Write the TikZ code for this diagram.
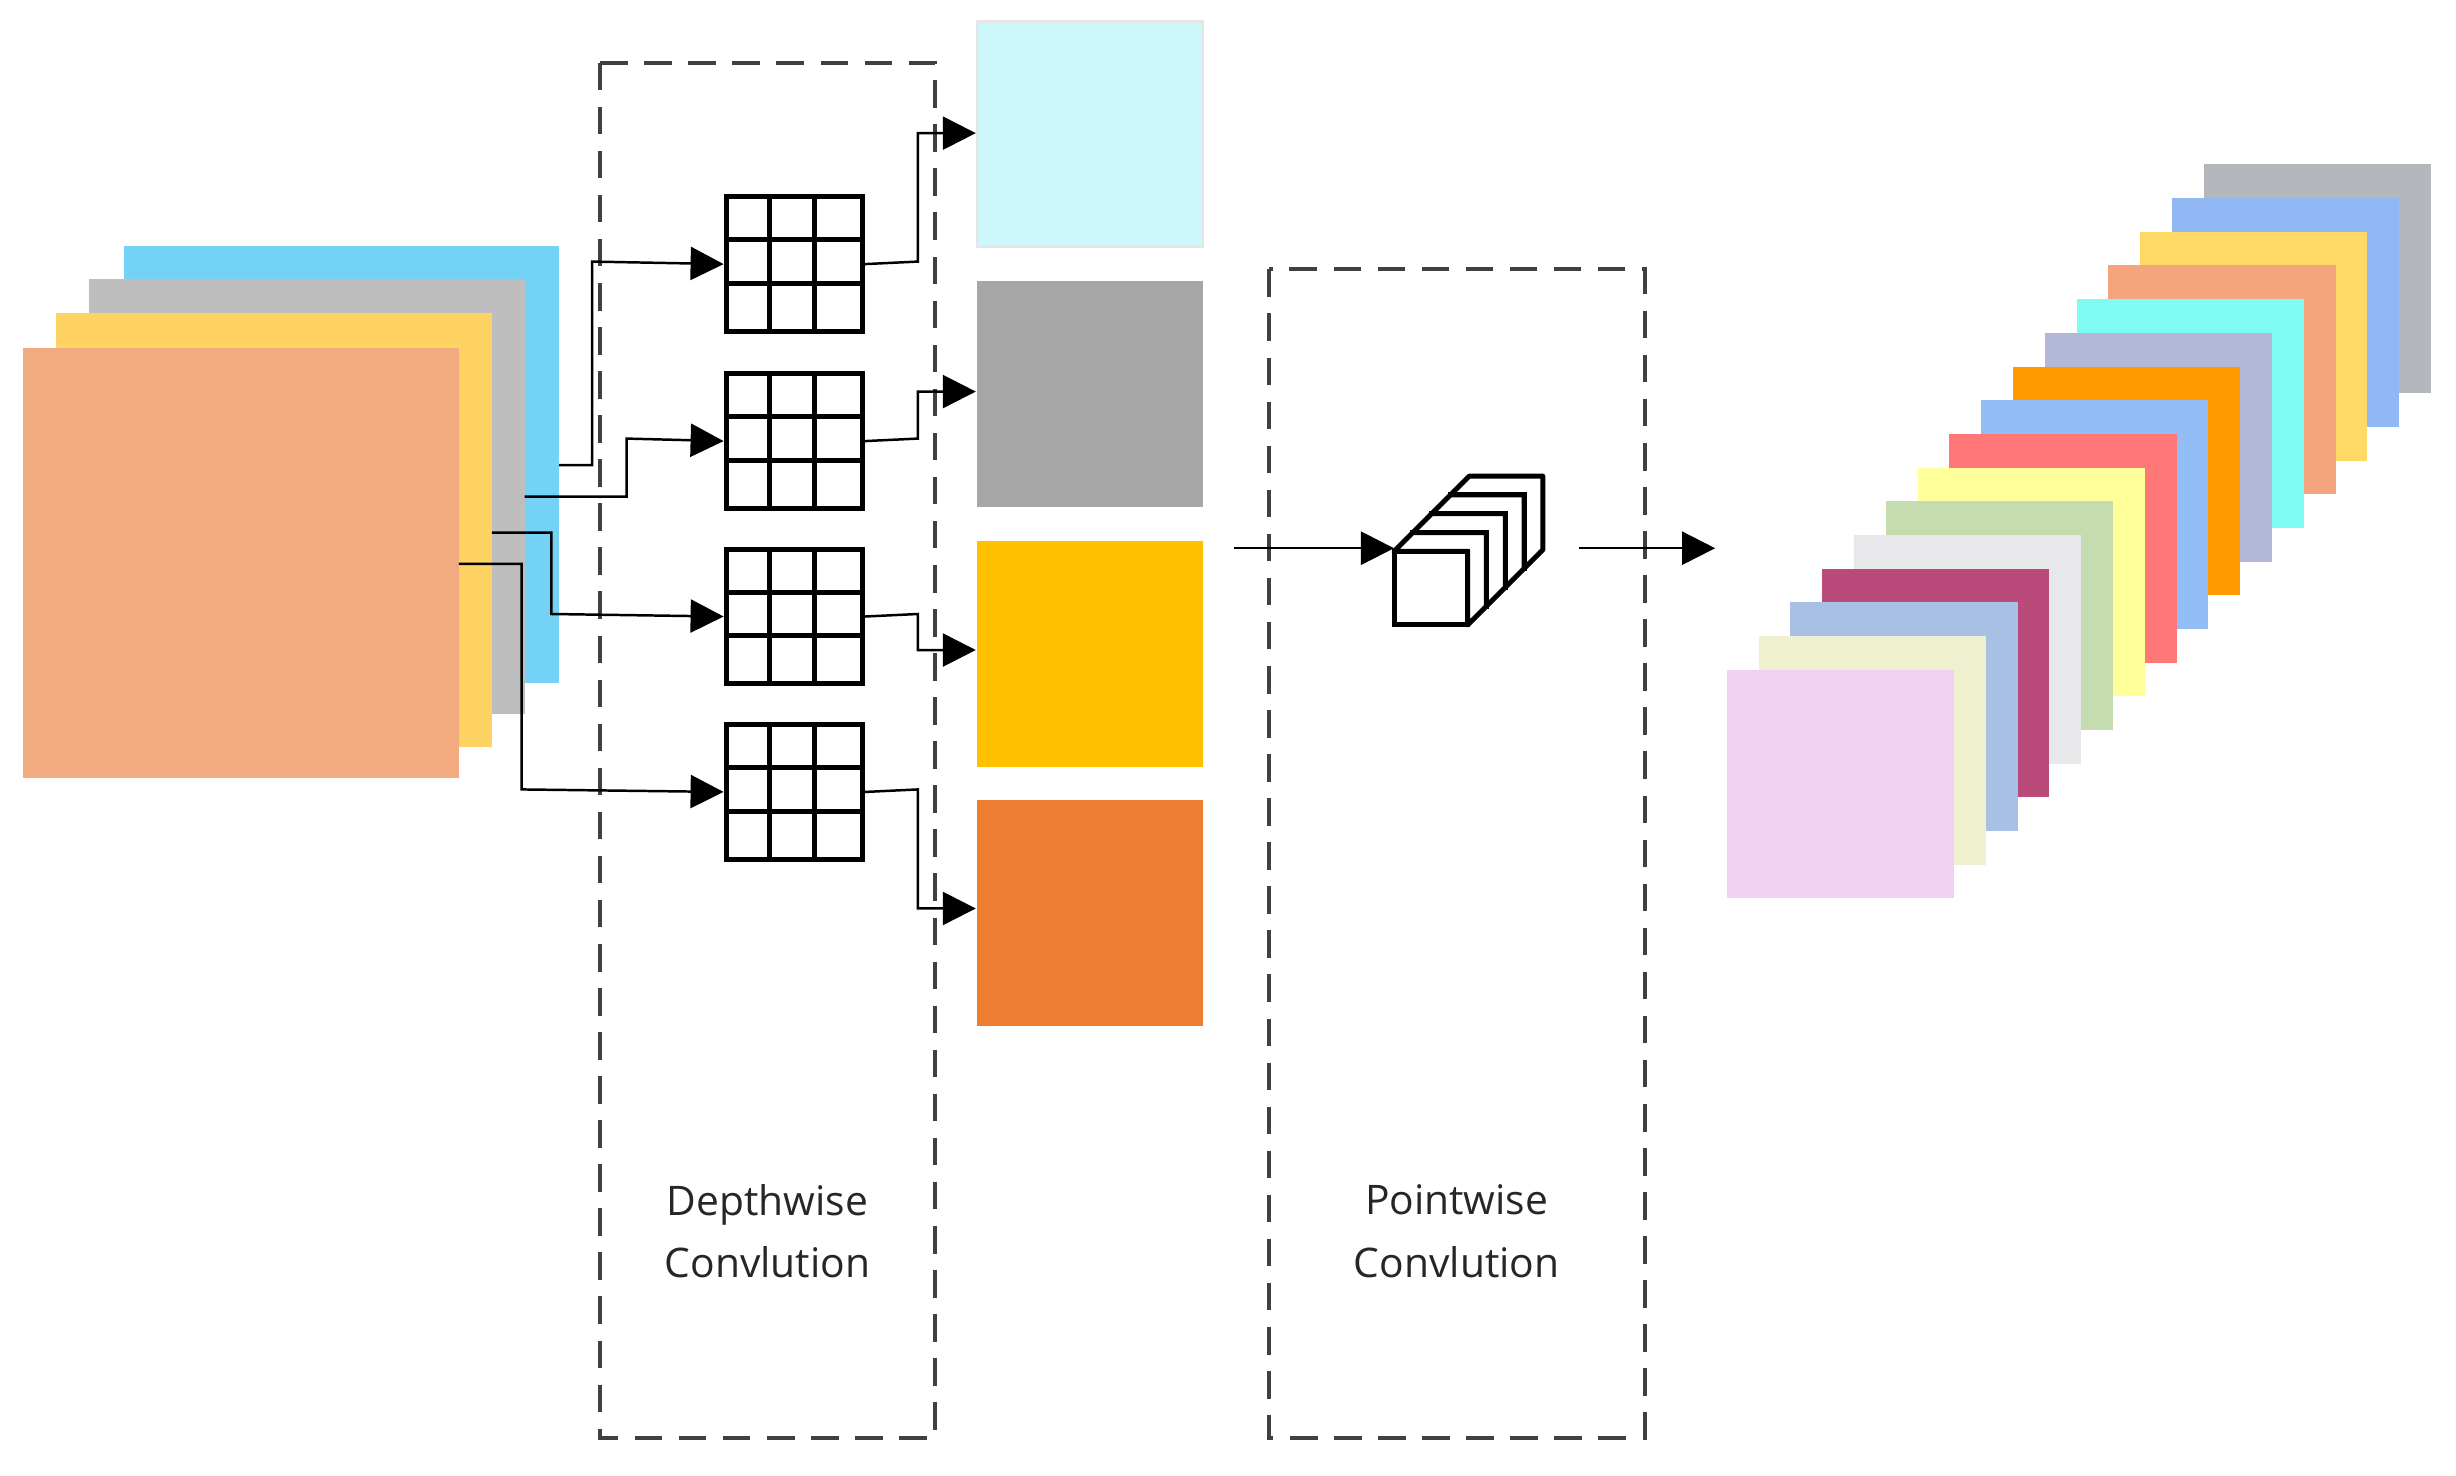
\documentclass[tikz,border=0pt]{standalone}
\usepackage{fontspec}
\setmainfont{Open Sans}
\usetikzlibrary{arrows.meta}
\begin{document}
\begin{tikzpicture}[x=0.01cm,y=-0.01cm,
  conn/.style={line width=0.45pt,-{Triangle[length=6pt,width=6pt]}},
  dbox/.style={draw=black!75,dashed,dash pattern=on 5pt off 3pt,line width=0.7pt},
  lbl/.style={font=\fontsize{7.4}{11.4}\selectfont,align=center,text=black!85}]
\useasboundingbox (0,0) rectangle (1568,942);
% left input stack
\fill[fill=cyan!55!white] (79,157) rectangle (357,436);
\fill[fill={rgb,255:red,190;green,190;blue,190}] (57,178) rectangle (335,456);
\fill[fill={rgb,255:red,255;green,210;blue,100}] (36,200) rectangle (314,477);
\fill[fill={rgb,255:red,242;green,170;blue,128}] (15,222) rectangle (293,497);
\coordinate (s1) at (357,297);\coordinate (s2) at (335,317);
\coordinate (s3) at (314,340);\coordinate (s4) at (293,360);
% dashed boxes
\draw[dbox] (383,40) rectangle (597,918);
\draw[dbox] (810,172) rectangle (1050,918);
\node[lbl] (dw) at (490,786) {Depthwise\\Convlution};
\node[lbl] (pw) at (930,786) {Pointwise\\Convlution};
% grids
\foreach \i/\y in {1/124,2/237,3/349,4/461}{
  \node[draw,line width=0.9pt,minimum width=0.87cm,minimum height=0.86cm,inner sep=0,anchor=north west] (g\i) at (462,\y) {};
  \draw[line width=0.9pt] (491,\y) -- ++(0,86) (520,\y) -- ++(0,86)
     (462,\y+29) -- ++(87,0) (462,\y+57) -- ++(87,0);
}
% output squares
\node[fill={rgb,255:red,204;green,248;blue,252},draw=black!10,minimum size=1.44cm,inner sep=0,anchor=north west] (o1) at (623,13) {};
\node[fill={rgb,255:red,166;green,166;blue,166},minimum size=1.44cm,inner sep=0,anchor=north west] (o2) at (623,179) {};
\node[fill={rgb,255:red,255;green,192;blue,0},minimum size=1.44cm,inner sep=0,anchor=north west] (o3) at (623,345) {};
\node[fill={rgb,255:red,237;green,125;blue,49},minimum size=1.44cm,inner sep=0,anchor=north west] (o4) at (623,510) {};
% input connectors
\draw[conn] (s1) -- (378,297) -- (378,167) -- (g1.west);
\draw[conn] (s2) -- (400,317) -- (400,280) -- (g2.west);
\draw[conn] (s3) -- (352,340) -- (352,392) -- (g3.west);
\draw[conn] (s4) -- (333,360) -- (333,504) -- (g4.west);
% output connectors
\draw[conn] (g1.east) -- (586,167) -- (586,85) -- (623,85);
\draw[conn] (g2.east) -- (586,280) -- (586,250) -- (623,250);
\draw[conn] (g3.east) -- (586,392) -- (586,415) -- (623,415);
\draw[conn] (g4.east) -- (586,504) -- (586,580) -- (623,580);
% cube
\foreach \k in {3,2,1,0}{
  \pgfmathsetmacro{\xx}{890+12*\k}\pgfmathsetmacro{\yy}{352-12*\k}
  \draw[fill=white,line width=0.9pt,line join=round] (\xx,\yy) -- ++(12,-12) -- ++(47,0) -- ++(0,47) -- ++(-12,12) -- ++(0,-47) -- cycle;
  \draw[fill=white,line width=0.9pt] (\xx,\yy) rectangle ++(47,47);
}
\coordinate (cl) at (890,350);
\coordinate (a1) at (788,350);\coordinate (a2) at (1008,350);\coordinate (a3) at (1095,350);
\draw[conn] (a1) -- (cl);
\draw[conn] (a2) -- (a3);
% right output stack (back to front)
\foreach \c [count=\n from 0] in {
 {180,184,188},{143,184,245},{255,217,102},{244,165,126},{127,252,244},{180,184,216},
 {255,153,0},{147,189,245},{255,119,119},{255,255,153},{197,219,176},{232,232,234},
 {185,74,122},{168,192,228},{238,240,208},{242,208,242}}{
  \pgfmathsetmacro{\xx}{1407-20.3*\n}\pgfmathsetmacro{\yy}{105+21.5*\n}
  \definecolor{stk}{RGB}{\c}
  \fill[fill=stk] (\xx,\yy) rectangle ++(145,146);
}
\end{tikzpicture}
\end{document}
